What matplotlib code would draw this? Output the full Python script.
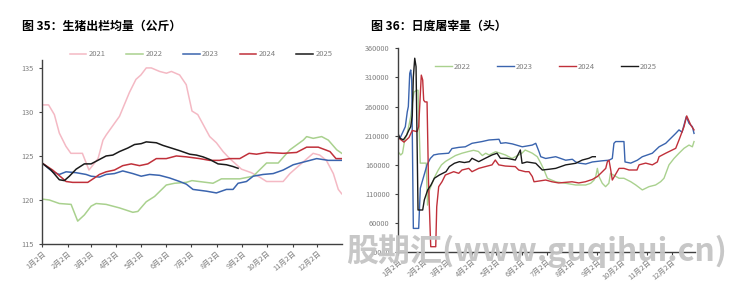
import matplotlib
matplotlib.use("Agg")
import matplotlib.pyplot as plt
import numpy as np

plt.rcParams['font.family'] = ['Noto Sans CJK SC', 'DejaVu Sans']

# ---------------- data: left chart (day of year, kg) ----------------
month_ticks = [2, 33, 61, 92, 122, 153, 183, 214, 245, 275, 306, 336]
month_labels = ["1月2日", "2月2日", "3月2日", "4月2日", "5月2日", "6月2日",
                "7月2日", "8月2日", "9月2日", "10月2日", "11月2日", "12月2日"]

w2021_x = [2, 10, 17, 23, 31, 37, 51, 59, 70, 76, 80, 96, 108, 116, 122, 128.5, 134.6, 144.7,
           153, 159, 169, 177, 184, 191, 205.5, 213.6, 221.7, 229.8, 244, 256, 266, 274.5,
           294.6, 302.8, 315, 331, 339, 347, 355.5, 361.5, 365.7]
w2021_y = [130.8, 130.8, 129.7, 127.6, 126.1, 125.3, 125.3, 123.4, 124.7, 126.8, 127.4, 129.5,
           132.2, 133.7, 134.2, 135.0, 135.0, 134.6, 134.4, 134.6, 134.2, 133.1, 130.1, 129.7,
           127.2, 126.5, 125.5, 124.7, 123.5, 123.1, 122.6, 122.1, 122.1, 123.0, 124.0, 125.3,
           125.1, 124.5, 123.0, 121.2, 120.7]

w2022_x = [2, 10.9, 23, 37.3, 45.3, 53.4, 61.6, 67.7, 79.8, 96, 112.2, 118.3, 128.5, 138.6,
           152.8, 162.9, 177.1, 183.9, 209.5, 219.7, 242, 258.2, 274.5, 288.6, 302.8, 319,
           323.1, 331.1, 341.3, 349.4, 359.6, 365.7]
w2022_y = [120.1, 120.0, 119.6, 119.5, 117.6, 118.3, 119.3, 119.6, 119.5, 119.1, 118.6, 118.7,
           119.8, 120.4, 121.7, 121.9, 122.0, 122.2, 121.9, 122.4, 122.4, 122.7, 124.2, 124.2,
           125.7, 126.8, 127.2, 127.0, 127.2, 126.8, 125.7, 125.3]

w2023_x = [2, 14.9, 23, 31.2, 43.4, 55.5, 61.6, 71.7, 79.8, 89.9, 100, 112.2, 122.4, 132.5,
           144.7, 156.8, 169, 177.1, 185.2, 201.5, 213.6, 225.8, 233.8, 239.9, 250.1, 258.2,
           270.3, 282.5, 294.6, 306.8, 323.1, 335.3, 349.4, 365.7]
w2023_y = [124.2, 123.2, 122.9, 123.2, 123.1, 122.9, 122.7, 122.6, 122.9, 123.0, 123.3, 123.0,
           122.7, 122.9, 122.8, 122.5, 122.1, 121.8, 121.2, 121.0, 120.8, 121.2, 121.2, 121.9,
           122.1, 122.7, 122.9, 123.0, 123.4, 124.0, 124.4, 124.7, 124.5, 124.5]

w2024_x = [2, 14.9, 25.1, 31.2, 39.2, 49.4, 57.5, 65.6, 71.7, 79.8, 89.9, 100, 110.3, 120.3,
           130.4, 140.7, 152.8, 165, 177.1, 193.3, 205.5, 217.6, 229.8, 242, 253.3, 262.3,
           274.5, 294.6, 310.9, 323.1, 337.2, 351.4, 358.7, 365.7]
w2024_y = [124.2, 123.4, 122.6, 122.1, 122.0, 122.0, 122.0, 122.5, 122.9, 123.2, 123.4, 123.9,
           124.1, 123.9, 124.1, 124.7, 124.7, 125.0, 124.9, 124.7, 124.5, 124.5, 124.7, 124.7,
           125.3, 125.2, 125.4, 125.3, 125.4, 126.0, 126.0, 125.5, 124.7, 124.7]

w2025_x = [2, 13, 23, 29.1, 35.2, 43.4, 53.4, 61.6, 71.7, 79.8, 87.9, 96, 106.1, 114.3, 122.4,
           128.5, 140.7, 148.7, 158.9, 169, 181.2, 189.3, 197.3, 205.5, 215.6, 225.8, 233.8, 239.9]
w2025_y = [124.2, 123.4, 122.3, 122.2, 122.7, 123.5, 124.1, 124.1, 124.6, 125.0, 125.1, 125.5,
           125.9, 126.3, 126.4, 126.6, 126.5, 126.2, 125.9, 125.6, 125.2, 125.1, 124.9, 124.6,
           124.1, 124.0, 123.8, 123.6]

# ---------------- data: right chart (day of year, head) ----------------
s2022_x = [2, 5.3, 7.5, 10.2, 12.6, 15.4, 17.5, 19.4, 21.5, 24.8, 26.4, 29.1, 36.4, 38, 40.4,
           47, 51, 55, 60, 66, 72, 80, 88, 94, 100, 104.8, 108.9, 113, 121, 133, 141, 153, 157,
           161.7, 165.7, 171.8, 176, 180, 184.1, 194.2, 206.4, 218.6, 230.8, 236.9, 241, 243,
           245, 247, 251, 255, 259, 261, 271.4, 277.4, 285.7, 291.8, 299.8, 307.9, 316,
           322.1, 326.2, 332.3, 338.4, 344.5, 350.6, 356.7, 360.8, 362.8]
s2022_y = [182600, 177000, 180000, 203000, 211000, 228000, 243000, 266000, 285000, 288000,
           288000, 163000, 163000, 91000, 117000, 140000, 151000, 160000, 166000, 171000,
           176000, 180000, 183000, 185000, 183000, 176000, 180000, 177000, 182600, 177000,
           171000, 180000, 185500, 182600, 180000, 174000, 163000, 151200, 137000, 131000,
           128400, 125500, 125500, 128400, 134000, 140000, 154000, 140000, 128400, 122600,
           128400, 145500, 137000, 137000, 131100, 125500, 117000, 122600, 125500, 131100,
           137000, 160000, 171000, 180000, 188400, 194000, 191000, 200000]

s2023_x = [2, 4.4, 10.9, 13.3, 14.6, 16.3, 17.5, 18.7, 19.9, 20.7, 27.2, 29.2, 33.3, 37.4,
           41.4, 45.5, 51.6, 63.8, 67.8, 76, 84, 92.2, 104.4, 112.9, 125.1, 127.2, 133.3,
           141.3, 153.5, 165.7, 169.9, 173.9, 176, 182, 194.2, 206.4, 214.5, 218.6, 222.6,
           230.8, 238.9, 251, 259.2, 263.2, 265.2, 267.3, 277.4, 278.7, 285.7, 293.7, 299.8,
           312, 320.2, 328.3, 340.5, 344.5, 348.2, 353.4, 356.7, 360.8, 362.8]
s2023_y = [211300, 205600, 225500, 251000, 260000, 317000, 322800, 305600, 154000, 51000,
           51000, 120000, 140000, 160000, 171000, 177000, 178700, 180000, 188000, 190000,
           191000, 197000, 200000, 202700, 203900, 197000, 198000, 196000, 191000, 194000,
           197000, 182600, 174000, 171000, 174000, 168000, 169600, 165000, 163000, 161500,
           165000, 167000, 168000, 171000, 197000, 200000, 200000, 165000, 163000, 168000,
           174000, 180000, 191000, 197000, 214000, 220000, 216000, 242700, 231300, 225500,
           214000]

s2024_x = [2, 9.3, 15.4, 19.4, 25.2, 27.2, 30.4, 32.1, 33.3, 34.9, 37.4, 39.2, 41.9, 48,
           49.2, 51.6, 55.6, 59.7, 69.9, 76, 80, 88.2, 92.2, 100.4, 108.4, 116.6, 120.6,
           124.8, 132.8, 145, 149.1, 157.2, 161.7, 165.7, 167.8, 182, 189.7, 197.9, 214.1,
           222.3, 230.3, 238.9, 245, 249.1, 255.2, 257.2, 259.2, 261.3, 263.2, 271.4, 277.4,
           283.6, 293.3, 295.8, 303.9, 312, 318.1, 320.2, 328.3, 340.5, 344.5, 350.6, 353.9,
           358.8, 362.8]
s2024_y = [207000, 199000, 207000, 219000, 217000, 225500, 314000, 305600, 271000, 268000,
           268000, 130000, 19600, 19600, 88000, 122600, 131000, 142600, 148300, 145500,
           151200, 154000, 148300, 154000, 157000, 160000, 168300, 160000, 158000, 157000,
           151200, 148300, 148300, 140000, 131000, 134000, 131000, 129000, 131000, 129000,
           131000, 135000, 140000, 145500, 154000, 165500, 168000, 151200, 134000, 154000,
           154000, 151200, 151200, 160000, 163000, 160000, 165000, 174000, 180000, 188400,
           202700, 225500, 244000, 228400, 220000]

s2025_x = [2, 4.4, 8.5, 12.6, 15.4, 17.5, 19.4, 20.7, 22.4, 24, 26.4, 32.1, 34.1, 38.2,
           42.2, 46.3, 52.4, 56.5, 60.5, 64.6, 70.7, 76.8, 82.9, 89, 92.2, 100.4, 108.4, 116.6,
           122.7, 126.8, 134.8, 145, 151.1, 153.2, 159.2, 169.9, 177.9, 186.1, 194.2, 206.4,
           218.6, 226.6, 234.7, 238.8, 242.5]
s2025_y = [214000, 205600, 203000, 211300, 220000, 225500, 245000, 311000, 343000, 328500,
           82600, 82600, 100000, 117000, 125500, 137000, 142600, 145500, 148300, 157000, 162700,
           165500, 164000, 165500, 171300, 165500, 171300, 177000, 180000, 171300, 171300,
           168300, 185500, 162700, 165000, 162700, 151200, 152500, 154000, 160000, 162700,
           168300, 171300, 174000, 174000]

# ---------------- styles ----------------
c2021 = '#F4B9C4'
c2022 = '#A9D18E'
c2023 = '#3A64AE'
c2024 = '#C0303A'
c2025 = '#1A1A1A'
tick_color = '#7F7F7F'
spine_color = '#404040'

fig = plt.figure(figsize=(7.46, 2.81), dpi=100)
fig.patch.set_facecolor('white')

def style_axes(ax):
    for s in ['top', 'right']:
        ax.spines[s].set_visible(False)
    for s in ['left', 'bottom']:
        ax.spines[s].set_color(spine_color)
        ax.spines[s].set_linewidth(1.0)
    ax.tick_params(axis='both', colors=spine_color, labelcolor=tick_color,
                   labelsize=5.3, length=2.5, width=0.8, direction='out')
    ax.tick_params(axis='x', pad=1.5)
    ax.set_xticks(month_ticks)
    ax.set_xticklabels(month_labels, rotation=40, ha='right', rotation_mode='anchor')

# ---------- left chart ----------
ax1 = fig.add_axes([42 / 746, 1 - 244 / 281, 300 / 746, (244 - 60) / 281])
lw = 1.1
ax1.plot(w2021_x, w2021_y, color=c2021, lw=lw, label='2021')
ax1.plot(w2022_x, w2022_y, color=c2022, lw=lw, label='2022')
ax1.plot(w2023_x, w2023_y, color=c2023, lw=lw, label='2023')
ax1.plot(w2024_x, w2024_y, color=c2024, lw=lw, label='2024')
ax1.plot(w2025_x, w2025_y, color=c2025, lw=lw, label='2025')
ax1.set_xlim(2, 366)
ax1.set_ylim(115, 135.9)
ax1.set_yticks([115, 120, 125, 130, 135])
style_axes(ax1)
ax1.legend(loc='center', bbox_to_anchor=(201 / 746, (281 - 54.5) / 281), bbox_transform=fig.transFigure,
           ncol=5, frameon=False, fontsize=5.5, handlelength=2.2, handletextpad=0.3,
           columnspacing=2.7, labelcolor=tick_color)

# ---------- right chart ----------
ax2 = fig.add_axes([398 / 746, 1 - 252.3 / 281, 297 / 746, (252.3 - 48.3) / 281])
lw2 = 1.0
ax2.plot(s2022_x, s2022_y, color=c2022, lw=lw2, label='2022')
ax2.plot(s2023_x, s2023_y, color=c2023, lw=lw2, label='2023')
ax2.plot(s2024_x, s2024_y, color=c2024, lw=lw2, label='2024')
ax2.plot(s2025_x, s2025_y, color=c2025, lw=lw2, label='2025')
ax2.set_xlim(2, 364)
ax2.set_ylim(10000, 360000)
ax2.set_yticks(np.arange(10000, 360001, 50000))
ax2.set_yticklabels([str(v) for v in range(10000, 360001, 50000)])
style_axes(ax2)
ax2.legend(loc='center', bbox_to_anchor=(546 / 746, (281 - 66.7) / 281), bbox_transform=fig.transFigure,
           ncol=4, frameon=False, fontsize=5.5, handlelength=2.2, handletextpad=0.3,
           columnspacing=3.4, labelcolor=tick_color)

# ---------- titles ----------
fig.text(22 / 746, 1 - 26 / 281, '图 35：生猪出栏均量（公斤）', fontsize=8.6, fontweight='bold',
         va='center', ha='left', color='#000000')
fig.text(371 / 746, 1 - 26 / 281, '图 36：日度屠宰量（头）', fontsize=8.6, fontweight='bold',
         va='center', ha='left', color='#000000')

# ---------- watermark ----------
fig.text(537 / 746, 1 - 251 / 281, '股期汇(www.guqihui.cn)', fontsize=23, fontweight='bold',
         style='italic', color='#C4C4C4', alpha=0.95, ha='center', va='center', zorder=10,
         family=['Noto Sans CJK SC', 'DejaVu Sans'])

fig.savefig('out.png', dpi=100, facecolor='white')
